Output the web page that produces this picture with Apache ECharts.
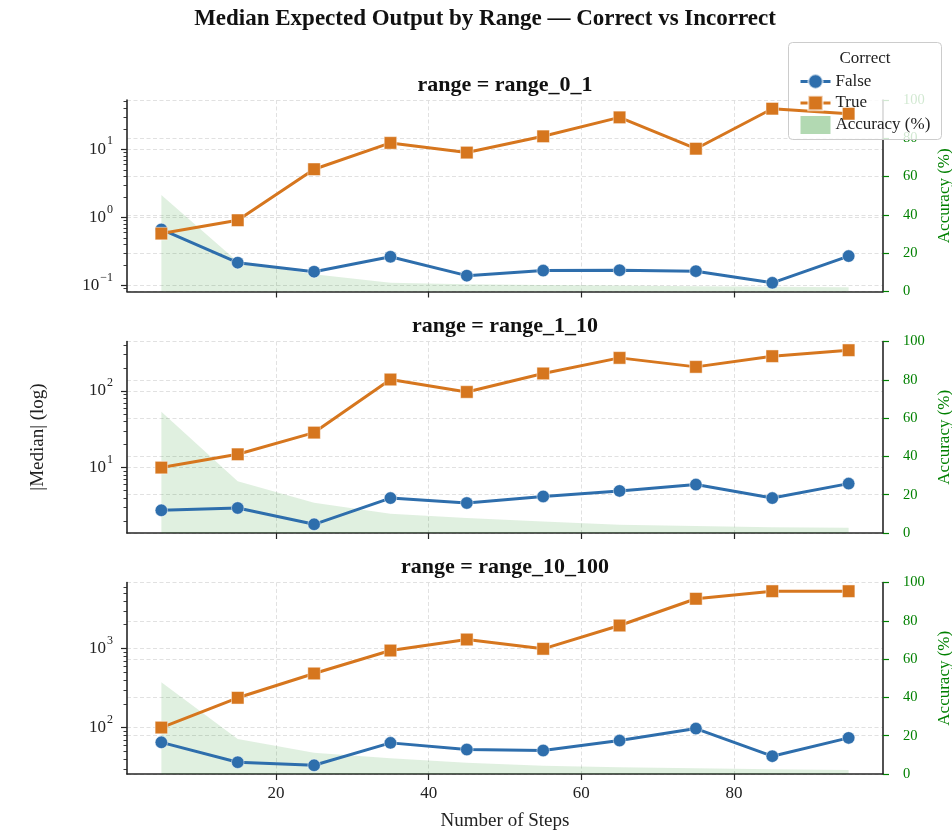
<!DOCTYPE html>
<html><head><meta charset="utf-8">
<script src="https://cdn.jsdelivr.net/npm/echarts@6/dist/echarts.min.js"></script>
<style>html,body{margin:0;padding:0;background:#fff}#c{width:952px;height:834px}</style>
</head><body><div id="c"></div>
<script>
// ---- data ----
const steps = [5, 15, 25, 35, 45, 55, 65, 75, 85, 95];
const panelNames = ['range_0_1', 'range_1_10', 'range_10_100'];
const false_0_1 = [0.667, 0.217, 0.160, 0.265, 0.140, 0.166, 0.168, 0.163, 0.110, 0.271];
const true_0_1 = [0.58, 0.91, 5.1, 12.4, 8.95, 15.5, 29.4, 10.2, 39.4, 33.2];
const acc_0_1 = [50.4, 15.6, 9.0, 4.6, 3.8, 3.4, 3.1, 2.8, 2.5, 2.2];
const false_1_10 = [2.77, 2.97, 1.82, 4.0, 3.45, 4.2, 4.96, 6.0, 4.0, 6.18];
const true_1_10 = [10, 14.9, 28.6, 141, 97, 169, 270, 206, 284, 340];
const acc_1_10 = [63.3, 27, 15.8, 10, 7.8, 6, 4.3, 3.6, 3.0, 2.7];
const false_10_100 = [65, 36.4, 33.3, 64, 52.7, 51.2, 68.4, 97, 43.4, 74];
const true_10_100 = [100, 238, 483, 943, 1300, 991, 1955, 4260, 5310, 5310];
const acc_10_100 = [47.9, 18.3, 11.1, 8.2, 5.9, 4.3, 3.5, 3.0, 2.5, 2.1];
const xTicks = [20, 40, 60, 80];
const decades_0_1 = [0.1, 1, 10];
const decades_1_10 = [10, 100];
const decades_10_100 = [100, 1000];
const accTicks = [0, 20, 40, 60, 80, 100];

const falseVals = [false_0_1, false_1_10, false_10_100];
const trueVals = [true_0_1, true_1_10, true_10_100];
const accVals = [acc_0_1, acc_1_10, acc_10_100];
const decades = [decades_0_1, decades_1_10, decades_10_100];

// ---- style ----
const FONT = "'Liberation Serif','DejaVu Serif',serif";
const BLUE = '#2e6eac';
const ORANGE = '#d6761e';
const GREEN = '#008000';
const AXIS = '#262626';
const GRIDC = '#dedede';
const tops = [100, 341.5, 582.5];
const H = 191.5;

function logRange(a, b) {
  const l = a.concat(b).map(Math.log10);
  const lo = Math.min(...l), hi = Math.max(...l), m = (hi - lo) * 0.05;
  return [Math.pow(10, lo - m), Math.pow(10, hi + m)];
}
function minors(r) {
  const out = [];
  for (let d = Math.floor(Math.log10(r[0])); d <= Math.ceil(Math.log10(r[1])); d++) {
    for (let k = 2; k <= 9; k++) {
      const v = k * Math.pow(10, d);
      if (v > r[0] && v < r[1]) out.push(v);
    }
  }
  return out;
}
const dash = { type: [4, 2.5], color: GRIDC, width: 0.9 };

const grid = [], xAxis = [], yAxis = [], series = [], graphic = [];
for (let i = 0; i < 3; i++) {
  grid.push({ left: 127, right: 69, top: tops[i], height: H, containLabel: false, outerBoundsMode: 'none' });
  xAxis.push({
    type: 'value', gridIndex: i, min: 0.5, max: 99.5,
    axisLine: { lineStyle: { color: AXIS, width: 1.6 } },
    axisTick: { customValues: xTicks, length: 6, lineStyle: { color: AXIS, width: 1.2 } },
    axisLabel: { show: i === 2, customValues: xTicks, fontSize: 17, color: '#222', fontFamily: FONT, margin: 11 },
    splitLine: { show: true, lineStyle: dash },
    name: i === 2 ? 'Number of Steps' : '', nameLocation: 'middle', nameGap: 38,
    nameTextStyle: { fontSize: 19, color: '#222', fontFamily: FONT }
  });
  const r = logRange(falseVals[i], trueVals[i]);
  yAxis.push({
    type: 'log', logBase: 10, gridIndex: i, position: 'left', min: r[0], max: r[1],
    axisLine: { show: true, lineStyle: { color: AXIS, width: 1.6 } },
    axisTick: { customValues: decades[i], length: 6, lineStyle: { color: AXIS, width: 1.2 } },
    axisLabel: {
      customValues: decades[i], margin: 14, color: '#222', fontFamily: FONT, fontSize: 17,
      formatter: v => {
        const e = Math.round(Math.log10(v));
        return '{b|10}{s|' + (e < 0 ? '\u2212' + (-e) : e) + '}';
      },
      rich: {
        b: { fontSize: 17, fontFamily: FONT, color: '#222', lineHeight: 28, verticalAlign: 'middle' },
        s: { fontSize: 12, fontFamily: FONT, color: '#222', lineHeight: 13, verticalAlign: 'top', padding: [0, 0, 0, 1] }
      }
    },
    splitLine: { show: true, lineStyle: dash }
  });
  yAxis.push({
    type: 'log', logBase: 10, gridIndex: i, position: 'left', min: r[0], max: r[1],
    axisLine: { show: false },
    axisTick: { customValues: minors(r), length: 3.5, lineStyle: { color: AXIS, width: 0.9 } },
    axisLabel: { show: false },
    splitLine: { show: false }
  });
  yAxis.push({
    type: 'value', gridIndex: i, position: 'right', min: 0, max: 100, interval: 20,
    axisLine: { show: true, lineStyle: { color: AXIS, width: 1.6 } },
    axisTick: { show: true, length: 6, lineStyle: { color: GREEN, width: 1.2 } },
    axisLabel: { color: GREEN, fontSize: 14.5, fontFamily: FONT, margin: 20 },
    splitLine: { show: true, lineStyle: dash },
    name: 'Accuracy (%)', nameLocation: 'middle', nameRotate: 90, nameGap: 51,
    nameTextStyle: { color: GREEN, fontSize: 17, fontFamily: FONT }
  });
  series.push({
    type: 'line', name: 'Accuracy (%)', xAxisIndex: i, yAxisIndex: 3 * i + 2,
    data: steps.map((s, j) => [s, accVals[i][j]]),
    symbol: 'none', lineStyle: { width: 0 }, areaStyle: { color: 'rgba(0,128,0,0.12)', opacity: 1 },
    itemStyle: { color: 'rgba(0,128,0,0.3)' }, z: 1, silent: true
  });
  series.push({
    type: 'line', name: 'False', xAxisIndex: i, yAxisIndex: 3 * i,
    data: steps.map((s, j) => [s, falseVals[i][j]]),
    symbol: 'circle', symbolSize: 12.5, showAllSymbol: true,
    lineStyle: { color: BLUE, width: 3 },
    itemStyle: { color: BLUE, borderColor: 'rgba(255,255,255,0.6)', borderWidth: 0.8 }, z: 3
  });
  series.push({
    type: 'line', name: 'True', xAxisIndex: i, yAxisIndex: 3 * i,
    data: steps.map((s, j) => [s, trueVals[i][j]]),
    symbol: 'rect', symbolSize: 12.5, showAllSymbol: true,
    lineStyle: { color: ORANGE, width: 3 },
    itemStyle: { color: ORANGE, borderColor: 'rgba(255,255,255,0.6)', borderWidth: 0.8 }, z: 4
  });
  graphic.push({
    type: 'text', x: 505, y: tops[i] - 15, z: 10,
    style: { text: 'range = ' + panelNames[i], font: "bold 22px " + FONT, fill: '#111', textAlign: 'center', textVerticalAlign: 'middle' }
  });
}
graphic.push({
  type: 'text', x: 485, y: 19, z: 10,
  style: { text: 'Median Expected Output by Range \u2014 Correct vs Incorrect', font: "bold 23px " + FONT, fill: '#111', textAlign: 'center', textVerticalAlign: 'middle' }
});
graphic.push({
  type: 'text', x: 38, y: 437, rotation: Math.PI / 2, z: 10,
  style: { text: '|Median| (log)', font: "19px " + FONT, fill: '#222', textAlign: 'center', textVerticalAlign: 'middle' }
});
graphic.push({
  type: 'rect', z: 3, shape: { x: 788.5, y: 42.5, width: 153, height: 97, r: 4 },
  style: { fill: 'rgba(255,255,255,0.82)', stroke: '#cccccc', lineWidth: 1 }
});
graphic.push({
  type: 'text', x: 865, y: 59, z: 5,
  style: { text: 'Correct', font: "17px " + FONT, fill: '#222', textAlign: 'center', textVerticalAlign: 'middle' }
});

const option = {
  animation: false,
  backgroundColor: '#fff',
  textStyle: { fontFamily: FONT },
  grid, xAxis, yAxis, series, graphic,
  legend: {
    orient: 'vertical', left: 794, top: 68, itemWidth: 30, itemHeight: 18, itemGap: 4.5,
    lineStyle: { width: 3 },
    textStyle: { fontSize: 17, color: '#222', fontFamily: FONT },
    data: [
      { name: 'False' },
      { name: 'True' },
      { name: 'Accuracy (%)', icon: 'rect', itemStyle: { color: 'rgba(0,128,0,0.3)' } }
    ],
    z: 6
  }
};
const chart = echarts.init(document.getElementById('c'), null, { renderer: 'canvas' });
chart.setOption(option);
</script></body></html>
